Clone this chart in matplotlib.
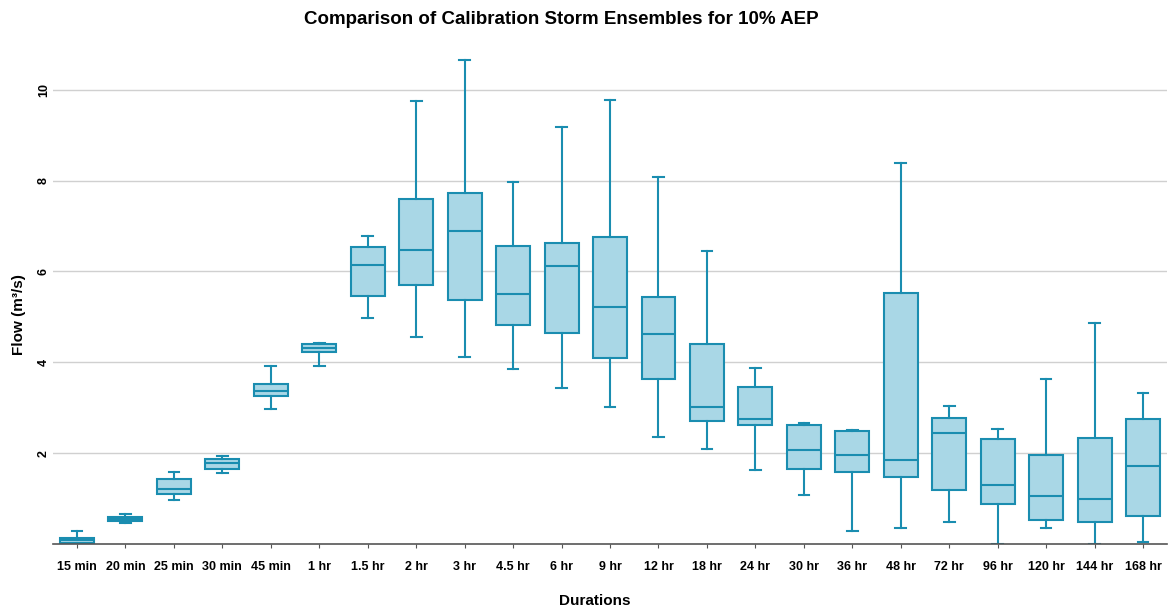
import matplotlib
matplotlib.use("Agg")
import matplotlib.pyplot as plt

plt.rcParams["font.family"] = ["Liberation Sans", "DejaVu Sans"]

durations = ["15 min", "20 min", "25 min", "30 min", "45 min", "1 hr", "1.5 hr", "2 hr",
             "3 hr", "4.5 hr", "6 hr", "9 hr", "12 hr", "18 hr", "24 hr", "30 hr",
             "36 hr", "48 hr", "72 hr", "96 hr", "120 hr", "144 hr", "168 hr"]

whisker_low = [0.00, 0.46, 0.96, 1.56, 2.97, 3.92, 4.97, 4.55, 4.11, 3.85, 3.44, 3.02,
               2.36, 2.10, 1.62, 1.08, 0.29, 0.36, 0.48, 0.00, 0.36, 0.00, 0.04]
q1 = [0.03, 0.51, 1.09, 1.65, 3.25, 4.22, 5.45, 5.70, 5.37, 4.82, 4.64, 4.10,
      3.63, 2.70, 2.63, 1.66, 1.59, 1.47, 1.18, 0.88, 0.52, 0.48, 0.62]
median = [0.08, 0.56, 1.22, 1.78, 3.36, 4.31, 6.14, 6.48, 6.90, 5.51, 6.13, 5.21,
          4.62, 3.01, 2.75, 2.08, 1.96, 1.84, 2.44, 1.30, 1.06, 0.99, 1.72]
q3 = [0.14, 0.59, 1.42, 1.88, 3.53, 4.40, 6.53, 7.60, 7.73, 6.55, 6.63, 6.76,
      5.44, 4.41, 3.45, 2.61, 2.49, 5.53, 2.78, 2.31, 1.96, 2.33, 2.75]
whisker_high = [0.29, 0.65, 1.59, 1.94, 3.92, 4.43, 6.77, 9.76, 10.65, 7.97, 9.19, 9.78,
                8.08, 6.45, 3.88, 2.66, 2.51, 8.39, 3.03, 2.53, 3.63, 4.86, 3.32]

stats = []
for i, name in enumerate(durations):
    stats.append({
        "label": name,
        "whislo": whisker_low[i],
        "q1": q1[i],
        "med": median[i],
        "q3": q3[i],
        "whishi": whisker_high[i],
        "fliers": [],
    })

edge = "#1a8db0"
fill = "#a9d7e6"

fig = plt.figure(figsize=(11.72, 6.13), dpi=100)
ax = fig.add_axes([0.045, 0.1126, 0.951, 0.815])

ax.bxp(
    stats,
    positions=range(len(durations)),
    widths=0.7,
    capwidths=0.22,
    patch_artist=True,
    showfliers=False,
    boxprops=dict(facecolor=fill, edgecolor=edge, linewidth=1.5),
    medianprops=dict(color=edge, linewidth=1.5),
    whiskerprops=dict(color=edge, linewidth=1.5),
    capprops=dict(color=edge, linewidth=1.5),
)

ax.set_xlim(-0.5, len(durations) - 0.5)
ax.set_ylim(0, 11)
ax.set_yticks([2, 4, 6, 8, 10])
ax.yaxis.grid(True, color="#d0d0d0", linewidth=1)
ax.set_axisbelow(True)

for side in ["top", "right", "left"]:
    ax.spines[side].set_visible(False)
ax.spines["bottom"].set_color("#555555")
ax.spines["bottom"].set_linewidth(1.2)

ax.tick_params(axis="y", length=0, pad=2)
ax.tick_params(axis="x", length=3, color="#555555", pad=9)
ax.set_xticks(range(len(durations)))
ax.set_xticklabels(durations, fontsize=9, fontweight="bold")
for lbl in ax.get_yticklabels():
    lbl.set_rotation(90)
    lbl.set_fontsize(9)
    lbl.set_fontweight("bold")
    lbl.set_va("center")

ax.set_xlabel("Durations", fontsize=11, fontweight="bold")
ax.xaxis.set_label_coords(0.4865, -0.1)
ax.set_ylabel("Flow (m³/s)", fontsize=11, fontweight="bold")
ax.yaxis.set_label_coords(-0.024, 0.46)
fig.text(0.479, 0.968, "Comparison of Calibration Storm Ensembles for 10% AEP",
         fontsize=13.5, fontweight="bold", ha="center", va="center")

fig.savefig("out.png", dpi=100)
